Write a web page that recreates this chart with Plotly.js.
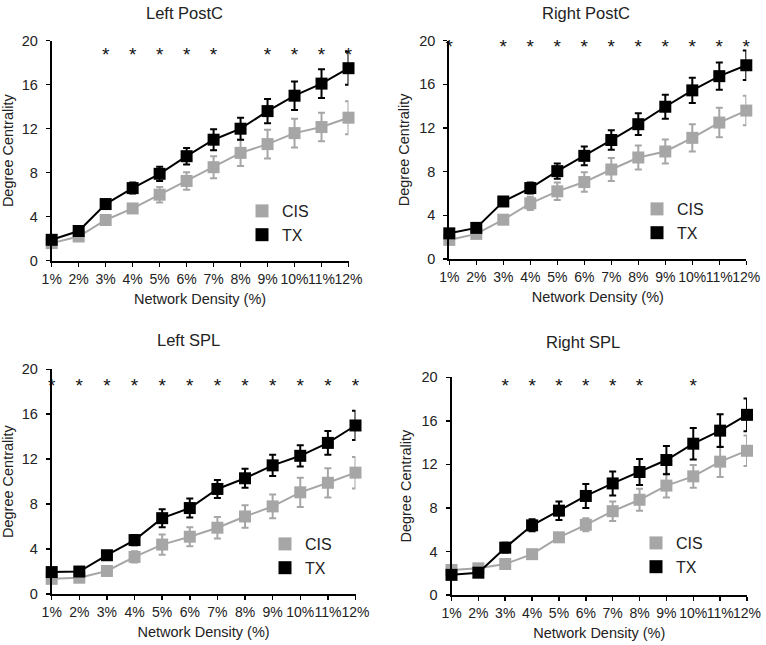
<!DOCTYPE html>
<html><head><meta charset="utf-8">
<script src="https://cdn.plot.ly/plotly-3.0.1.min.js"></script>
<style>html,body{margin:0;padding:0;background:#fff}#chart{width:766px;height:645px}</style>
</head><body><div id="chart"></div>
<script>
// ---------- DATA ----------
const categories = ['1%','2%','3%','4%','5%','6%','7%','8%','9%','10%','11%','12%'];

const leftPostC_CIS     = [1.6, 2.2, 3.7, 4.75, 6.0, 7.25, 8.5, 9.8, 10.6, 11.6, 12.15, 13.0];
const leftPostC_CIS_err = [0.3, 0.3, 0.3, 0.4, 0.7, 0.8, 1.0, 1.2, 1.3, 1.3, 1.3, 1.5];
const leftPostC_TX      = [1.9, 2.7, 5.15, 6.6, 7.9, 9.5, 11.0, 12.0, 13.6, 15.0, 16.1, 17.5];
const leftPostC_TX_err  = [0.3, 0.3, 0.35, 0.5, 0.65, 0.75, 0.95, 1.0, 1.1, 1.3, 1.3, 1.5];
const leftPostC_sig     = [0,0,1,1,1,1,1,0,1,1,1,1];

const rightPostC_CIS     = [1.75, 2.3, 3.6, 5.1, 6.2, 7.05, 8.2, 9.3, 9.85, 11.1, 12.5, 13.6];
const rightPostC_CIS_err = [0.3, 0.3, 0.3, 0.6, 0.8, 0.9, 1.05, 1.1, 1.1, 1.25, 1.35, 1.35];
const rightPostC_TX      = [2.35, 2.85, 5.27, 6.5, 8.05, 9.45, 10.9, 12.35, 13.95, 15.45, 16.75, 17.75];
const rightPostC_TX_err  = [0.3, 0.3, 0.3, 0.5, 0.7, 0.85, 0.9, 1.0, 1.1, 1.15, 1.25, 1.35];
const rightPostC_sig     = [1,0,1,1,1,1,1,1,1,1,1,1];

const leftSPL_CIS     = [1.35, 1.45, 2.05, 3.3, 4.4, 5.1, 5.9, 6.9, 7.8, 9.05, 9.9, 10.8];
const leftSPL_CIS_err = [0.25, 0.25, 0.3, 0.5, 0.9, 0.85, 0.95, 1.0, 1.05, 1.3, 1.3, 1.4];
const leftSPL_TX      = [1.95, 2.0, 3.45, 4.8, 6.75, 7.65, 9.35, 10.3, 11.45, 12.3, 13.45, 15.0];
const leftSPL_TX_err  = [0.3, 0.3, 0.3, 0.45, 0.8, 0.85, 0.8, 0.85, 0.95, 0.95, 1.05, 1.3];
const leftSPL_sig     = [1,1,1,1,1,1,1,1,1,1,1,1];

const rightSPL_CIS     = [2.3, 2.45, 2.85, 3.75, 5.3, 6.45, 7.7, 8.75, 10.05, 10.9, 12.25, 13.25];
const rightSPL_CIS_err = [0.25, 0.25, 0.3, 0.3, 0.35, 0.6, 0.9, 1.0, 1.1, 1.05, 1.4, 1.4];
const rightSPL_TX      = [1.85, 2.05, 4.35, 6.4, 7.75, 9.1, 10.25, 11.3, 12.4, 13.9, 15.1, 16.55];
const rightSPL_TX_err  = [0.3, 0.3, 0.45, 0.55, 0.85, 1.1, 1.1, 1.2, 1.3, 1.45, 1.5, 1.5];
const rightSPL_sig     = [0,0,1,1,1,1,1,1,0,1,0,0];

const yTicks = [0, 4, 8, 12, 16, 20];

// ---------- LAYOUT HELPERS ----------
const W = 766, H = 645;
const fx = p => p / W;
const fy = p => 1 - p / H;
const GRAY = '#a6a6a6', BLACK = '#000000';
const FONT = 'Liberation Sans, Arial, sans-serif';

const panels = [
  {title:'Left PostC', cis:leftPostC_CIS, cisErr:leftPostC_CIS_err, tx:leftPostC_TX, txErr:leftPostC_TX_err, sig:leftPostC_sig,
   xd:[51.7,348.5], yd:[40.7,260.7], tpos:[184.7,13], lpos:[242,194], star:18.6},
  {title:'Right PostC', cis:rightPostC_CIS, cisErr:rightPostC_CIS_err, tx:rightPostC_TX, txErr:rightPostC_TX_err, sig:rightPostC_sig,
   xd:[449.3,746.3], yd:[40.7,259], tpos:[585.5,13], lpos:[637,192], star:19.3},
  {title:'Left SPL', cis:leftSPL_CIS, cisErr:leftSPL_CIS_err, tx:leftSPL_TX, txErr:leftSPL_TX_err, sig:leftSPL_sig,
   xd:[51.7,355.5], yd:[369.3,594], tpos:[188.7,339.5], lpos:[265,527], star:18.4},
  {title:'Right SPL', cis:rightSPL_CIS, cisErr:rightSPL_CIS_err, tx:rightSPL_TX, txErr:rightSPL_TX_err, sig:rightSPL_sig,
   xd:[451.5,747], yd:[377.3,595], tpos:[583,341.7], lpos:[636,526], star:19.1}
];

const data = [];
const layout = {
  width: W, height: H,
  margin: {l:0, r:0, t:0, b:0},
  paper_bgcolor: '#ffffff', plot_bgcolor: '#ffffff',
  font: {family: FONT, color: '#222222', size: 14},
  showlegend: true,
  annotations: []
};

panels.forEach((p, i) => {
  const s = i === 0 ? '' : String(i + 1);
  const xa = 'x' + s, ya = 'y' + s;
  const lg = 'legend' + s;

  data.push({
    type:'scatter', mode:'lines+markers', x: categories, y: p.cis, xaxis: xa, yaxis: ya,
    line:{color:GRAY, width:2}, marker:{symbol:'square', size:12, color:GRAY},
    error_y:{type:'data', array:p.cisErr, visible:true, color:GRAY, thickness:2, width:3.5},
    cliponaxis:false, showlegend:false, name:'CIS', hoverinfo:'skip'
  });
  data.push({
    type:'scatter', mode:'lines+markers', x: categories, y: p.tx, xaxis: xa, yaxis: ya,
    line:{color:BLACK, width:2}, marker:{symbol:'square', size:12, color:BLACK},
    error_y:{type:'data', array:p.txErr, visible:true, color:BLACK, thickness:2, width:3.5},
    cliponaxis:false, showlegend:false, name:'TX', hoverinfo:'skip'
  });
  const sx = categories.filter((c, k) => p.sig[k]);
  data.push({
    type:'scatter', mode:'text', x: sx, y: sx.map(() => p.star), xaxis: xa, yaxis: ya,
    text: sx.map(() => '*'), textposition:'middle center',
    textfont:{family:FONT, size:19, color:'#111111'},
    cliponaxis:false, showlegend:false, hoverinfo:'skip'
  });
  // legend entries
  data.push({type:'scatter', mode:'markers', x:[null], y:[null], xaxis: xa, yaxis: ya, name:'CIS', legend: lg,
    marker:{symbol:'square', size:13, color:GRAY}, showlegend:true, hoverinfo:'skip'});
  data.push({type:'scatter', mode:'markers', x:[null], y:[null], xaxis: xa, yaxis: ya, name:'TX', legend: lg,
    marker:{symbol:'square', size:13, color:BLACK}, showlegend:true, hoverinfo:'skip'});

  layout['xaxis' + s] = {
    domain:[fx(p.xd[0]), fx(p.xd[1])], anchor: ya, type:'category', range:[0, 11],
    showline:true, linecolor:BLACK, linewidth:2, ticks:'outside', ticklen:4, tickwidth:1.5, tickcolor:BLACK,
    showgrid:false, zeroline:false, tickfont:{size:14, color:'#222222'}, tickangle:0,
    title:{text:'Network Density (%)', font:{size:14.5, color:'#222222'}, standoff:8},
    fixedrange:true
  };
  layout['yaxis' + s] = {
    domain:[fy(p.yd[1]), fy(p.yd[0])], anchor: xa, range:[0, 20],
    tickmode:'array', tickvals: yTicks, ticktext: yTicks.map(String),
    showline:true, linecolor:BLACK, linewidth:2, ticks:'outside', ticklen:4, tickwidth:1.5, tickcolor:BLACK,
    showgrid:false, zeroline:false, tickfont:{size:14.5, color:'#222222'}, ticklabelstandoff:5,
    title:{text:'Degree Centrality', font:{size:14.5, color:'#222222'}},
    fixedrange:true
  };
  layout[lg] = {
    x: fx(p.lpos[0]), y: fy(p.lpos[1]), xanchor:'left', yanchor:'top',
    bgcolor:'rgba(0,0,0,0)', borderwidth:0, font:{size:16, color:'#222222', family:FONT},
    itemclick:false, itemdoubleclick:false, tracegroupgap:0
  };
  layout.annotations.push({
    text: p.title, xref:'paper', yref:'paper', x: fx(p.tpos[0]), y: fy(p.tpos[1]),
    xanchor:'center', yanchor:'middle', showarrow:false, font:{size:16.5, color:'#222222', family:FONT}
  });
});

Plotly.newPlot('chart', data, layout, {staticPlot:true, displayModeBar:false});
</script>
</body></html>
